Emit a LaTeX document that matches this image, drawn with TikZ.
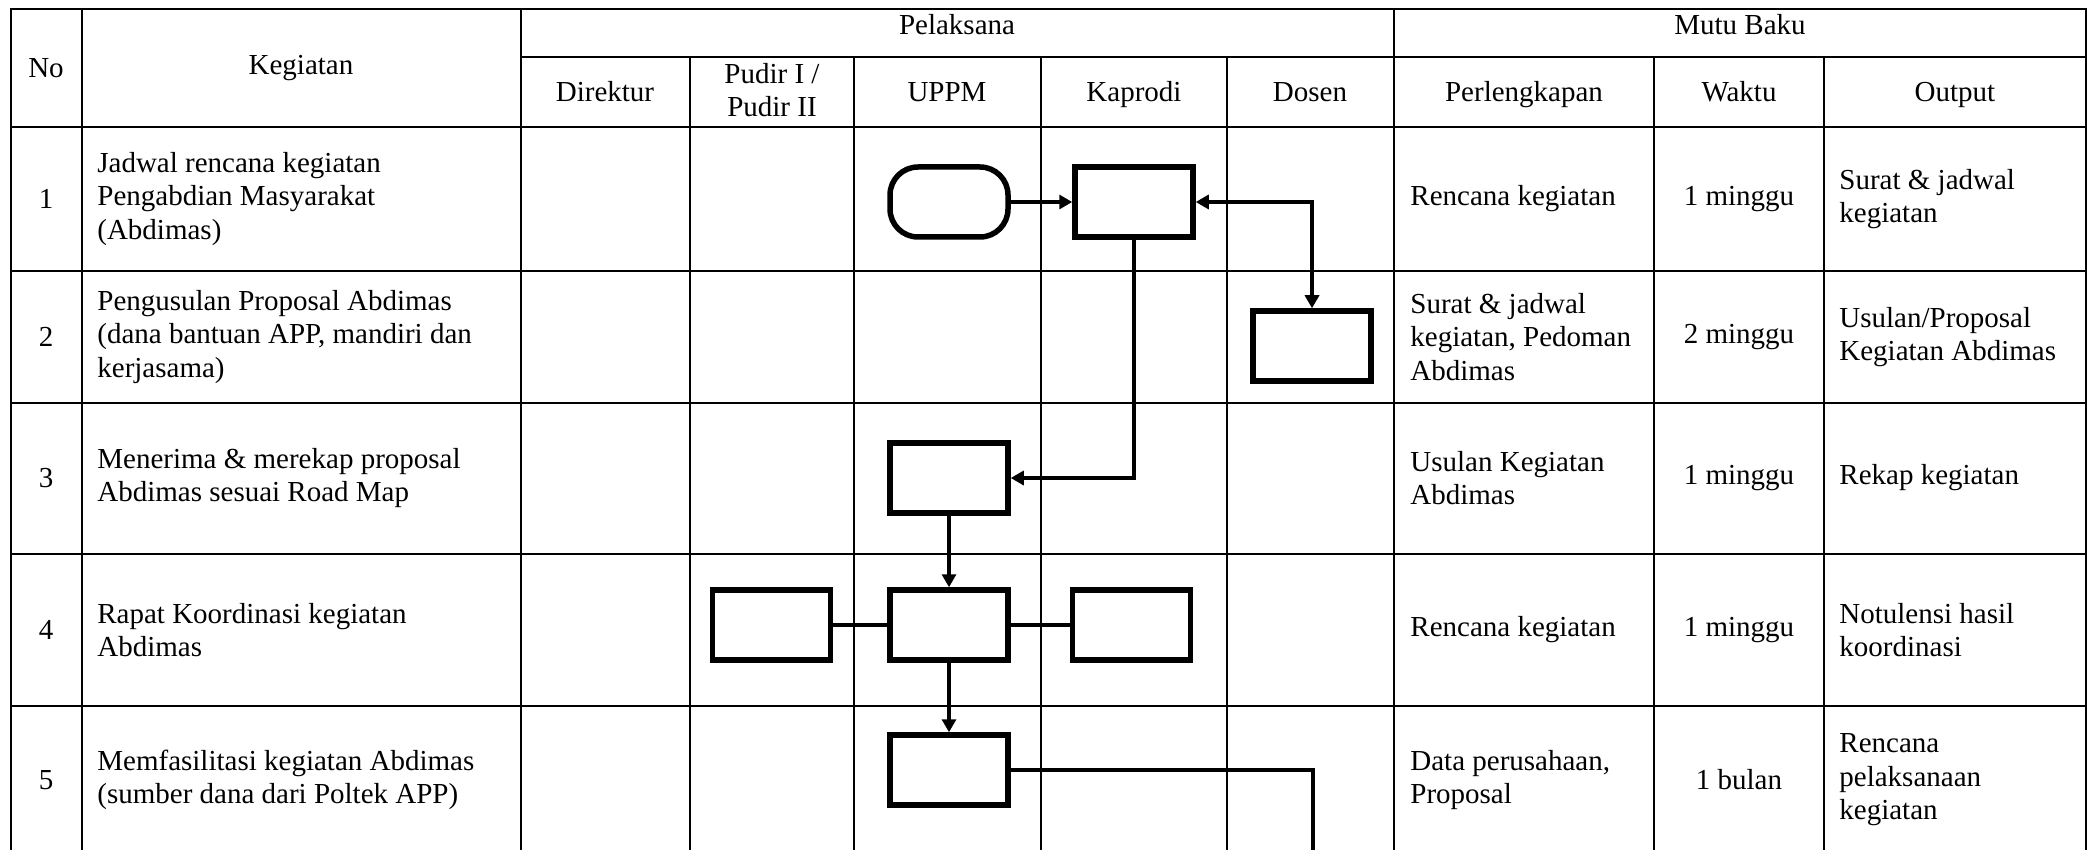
\documentclass[tikz,border=0pt]{standalone}
\usepackage{fontspec}
\setmainfont{Liberation Serif}
\usetikzlibrary{arrows.meta,positioning}

\tikzset{
  txt/.style={inner sep=0pt,font=\fontsize{14.5}{16.75}\selectfont},
  lefttxt/.style={txt,align=left,anchor=west},
  tabline/.style={line width=1.3pt,line cap=rect},
  proc/.style={rectangle,draw=black,line width=2.75pt,minimum width=59pt,minimum height=35pt,inner sep=0pt},
  startbox/.style={proc,rounded corners=14pt},
  flow/.style={line width=1.6pt},
  >={Triangle[length=6.5pt,width=7pt]}
}

\begin{document}
\begin{tikzpicture}[x=0.5pt,y=-0.5pt]
    \useasboundingbox (0,0) rectangle (2088,850);

    % garis tabel
    \foreach \x in {11,82,521,1394,2086} \draw[tabline] (\x,9) -- (\x,850);
    \foreach \x in {690,854,1041,1227,1654,1824} \draw[tabline] (\x,57) -- (\x,850);
    \draw[tabline] (11,9) -- (2086,9);
    \draw[tabline] (521,57) -- (2086,57);
    \foreach \y in {127,271,403,554,706} \draw[tabline] (11,\y) -- (2086,\y);

    % kepala tabel
    \node[txt] (no) at (46,68) {No};
    \node[txt] (keg) at (301,68) {Kegiatan};
    \node[txt,anchor=base] (pel) at (957,35) {Pelaksana};
    \node[txt,anchor=base] (mutu) at (1740,35) {Mutu Baku};
    \node[txt,anchor=base] (dir) at (605,102) {Direktur};
    \node[txt,align=center] (pud) at (772,90) {Pudir I /\\Pudir II};
    \node[txt,anchor=base] (uppm) at (947,102) {UPPM};
    \node[txt,anchor=base] (kap) at (1134,102) {Kaprodi};
    \node[txt,anchor=base] (dos) at (1310,102) {Dosen};
    \node[txt,anchor=base] (perl) at (1524,102) {Perlengkapan};
    \node[txt,anchor=base] (wkt) at (1739,102) {Waktu};
    \node[txt,anchor=base] (out) at (1955,102) {Output};

    % nomor dan waktu
    \foreach \i/\y/\w in {1/199/1 minggu,2/337/2 minggu,3/478/1 minggu,4/630/1 minggu,5/780/1 bulan}{
        \node[txt] (n\i) at (46,\y) {\i};
        \node[txt] (w\i) at (1739,\y) {\w};
    }

    % kegiatan
    \node[lefttxt] (k1) at (97,199) {Jadwal rencana kegiatan\\Pengabdian Masyarakat\\(Abdimas)};
    \node[lefttxt] (k2) at (97,337) {Pengusulan Proposal Abdimas\\(dana bantuan APP, mandiri dan\\kerjasama)};
    \node[lefttxt] (k3) at (97,478) {Menerima \& merekap proposal\\Abdimas sesuai Road Map};
    \node[lefttxt] (k4) at (97,630) {Rapat Koordinasi kegiatan\\Abdimas};
    \node[lefttxt] (k5) at (97,780) {Memfasilitasi kegiatan Abdimas\\(sumber dana dari Poltek APP)};

    % perlengkapan
    \node[lefttxt] (pl1) at (1410,199) {Rencana kegiatan};
    \node[lefttxt] (pl2) at (1410,337) {Surat \& jadwal\\kegiatan, Pedoman\\Abdimas};
    \node[lefttxt] (pl3) at (1410,478) {Usulan Kegiatan\\Abdimas};
    \node[lefttxt] (pl4) at (1410,630) {Rencana kegiatan};
    \node[lefttxt] (pl5) at (1410,780) {Data perusahaan,\\Proposal};

    % output
    \node[lefttxt] (o1) at (1839,199) {Surat \& jadwal\\kegiatan};
    \node[lefttxt] (o2) at (1839,337) {Usulan/Proposal\\Kegiatan Abdimas};
    \node[lefttxt] (o3) at (1839,478) {Rekap kegiatan};
    \node[lefttxt] (o4) at (1839,630) {Notulensi hasil\\koordinasi};
    \node[lefttxt] (o5) at (1839,780) {Rencana\\pelaksanaan\\kegiatan};

    % bagan alir
    \node[startbox] (mulai) at (949,202) {};
    \node[proc] (kp1) at (1134,202) {};
    \node[proc] (ds2) at (1312,346) {};
    \node[proc] (up3) at (949,478) {};
    \node[proc] (up4) at (949,625) {};
    \node[proc,left=27pt of up4] (pd4) {};
    \node[proc,right=29.5pt of up4] (kp4) {};
    \node[proc] (up5) at (949,770) {};
    \coordinate (ujung) at (1313,850);

    \draw[flow,->] (mulai) -- (kp1);
    \draw[flow,<->] (kp1) -| (ds2);
    \draw[flow,->] (kp1) |- (up3);
    \draw[flow,->] (up3) -- (up4);
    \draw[flow] (pd4) -- (up4) -- (kp4);
    \draw[flow,->] (up4) -- (up5);
    \draw[flow] (up5) -| (ujung);
\end{tikzpicture}
\end{document}
